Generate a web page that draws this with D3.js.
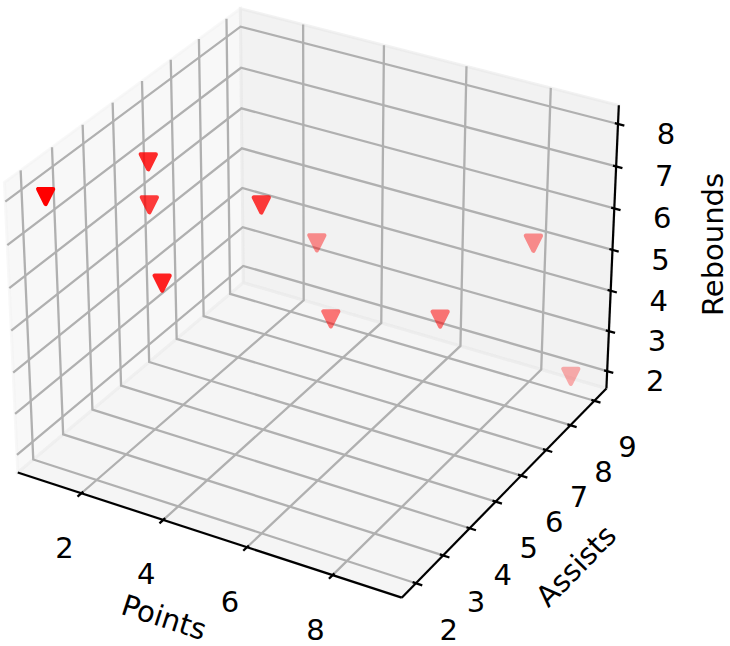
<!DOCTYPE html>
<html><head><meta charset="utf-8">
<script src="https://cdn.jsdelivr.net/npm/d3@7"></script>
<style>body{margin:0;background:#fff} svg{display:block} text{font-family:"DejaVu Sans",sans-serif;fill:#000}</style>
</head><body><svg id="c" width="730" height="646"></svg>
<script>
// ---------- data ----------
const points   = [1, 2, 2, 3, 4, 4, 5, 7, 8, 9];
const assists  = [2, 4, 4, 3, 5, 7, 6, 7, 9, 9];
const rebounds = [8, 8, 7, 6, 7, 5, 4, 4, 5, 2];
const pointsTicks   = [2, 4, 6, 8];
const assistsTicks  = [2, 3, 4, 5, 6, 7, 8, 9];
const reboundsTicks = [2, 3, 4, 5, 6, 7, 8];
const axisTitles = ["Points", "Assists", "Rebounds"];

// ---------- 3D view (matplotlib defaults) ----------
const elev = 30, azim = -60, dist = 10;
const aspect = [4, 4, 3];
const an = Math.hypot(...aspect);
const box = aspect.map(a => a * 1.8294640721620434 / an);

function limits(vals) {
  const lo = d3.min(vals), hi = d3.max(vals), m = (hi - lo) * 0.05;
  return [lo - m, hi + m];
}
function paneDomain(l) { const d = (l[1] - l[0]) / 48; return [l[0] - d, l[1] + d]; }
const limX = limits(points), limY = limits(assists), limZ = limits(rebounds);
const sx = d3.scaleLinear().domain(paneDomain(limX)).range([-box[0] / 2, box[0] / 2]);
const sy = d3.scaleLinear().domain(paneDomain(limY)).range([-box[1] / 2, box[1] / 2]);
const sz = d3.scaleLinear().domain(paneDomain(limZ)).range([-box[2] / 2, box[2] / 2]);
const deltas = [limX, limY, limZ].map(l => (l[1] - l[0]) / 12);

const er = elev * Math.PI / 180, ar = azim * Math.PI / 180;
const w = [Math.cos(er) * Math.cos(ar), Math.cos(er) * Math.sin(ar), Math.sin(er)];
const cross = (a, b) => [a[1]*b[2]-a[2]*b[1], a[2]*b[0]-a[0]*b[2], a[0]*b[1]-a[1]*b[0]];
const dot = (a, b) => a[0]*b[0] + a[1]*b[1] + a[2]*b[2];
let u = cross([0, 0, 1], w); const un = Math.hypot(...u); u = u.map(c => c / un);
const v = cross(w, u);

// 2D screen scales
const px = d3.scaleLinear().domain([0, 0.1]).range([317.3, 317.3 + 385]);
const py = d3.scaleLinear().domain([0, 0.1]).range([289.5, 289.5 - 386]);

function proj(X, Y, Z) {
  const p = [sx(X), sy(Y), sz(Z)];
  const den = dist - dot(w, p);
  return { x: px(dot(u, p) / den), y: py(dot(v, p) / den), depth: -dist / den };
}

const [x0, x1] = sx.domain(), [y0, y1] = sy.domain(), [z0, z1] = sz.domain();
const svg = d3.select("#c");
const line = d3.line().x(d => d.x).y(d => d.y);
const P = arr => arr.map(a => proj(...a));

// ---------- panes ----------
const panes = [
  { c: [[x0,y0,z0],[x0,y1,z0],[x0,y1,z1],[x0,y0,z1]], col: "rgb(242,242,242)" },
  { c: [[x0,y1,z0],[x1,y1,z0],[x1,y1,z1],[x0,y1,z1]], col: "rgb(230,230,230)" },
  { c: [[x0,y0,z0],[x1,y0,z0],[x1,y1,z0],[x0,y1,z0]], col: "rgb(236,236,236)" }
];
svg.append("g").selectAll("path").data(panes).join("path")
  .attr("d", d => line(P(d.c)) + "Z")
  .attr("fill", d => d.col).attr("fill-opacity", 0.5)
  .attr("stroke", d => d.col).attr("stroke-opacity", 0.5).attr("stroke-width", 2.9);

// ---------- grid ----------
const grid = [];
pointsTicks.forEach(t => grid.push([[t,y0,z0],[t,y1,z0],[t,y1,z1]]));
assistsTicks.forEach(t => grid.push([[x0,t,z1],[x0,t,z0],[x1,t,z0]]));
reboundsTicks.forEach(t => grid.push([[x1,y1,t],[x0,y1,t],[x0,y0,t]]));
svg.append("g").selectAll("path").data(grid).join("path")
  .attr("d", d => line(P(d))).attr("fill", "none")
  .attr("stroke", "#b0b0b0").attr("stroke-width", 2.3);

// ---------- axis lines ----------
const axLines = [
  [[x0,y0,z0],[x1,y0,z0]],
  [[x1,y0,z0],[x1,y1,z0]],
  [[x1,y1,z0],[x1,y1,z1]]
];
svg.append("g").selectAll("path").data(axLines).join("path")
  .attr("d", d => line(P(d))).attr("fill", "none")
  .attr("stroke", "#000").attr("stroke-width", 2.2);

// ---------- ticks ----------
const tickSegs = [];
pointsTicks.forEach(t => tickSegs.push([[t, y0 + 0.1*deltas[1], z0], [t, y0 - 0.2*deltas[1], z0]]));
assistsTicks.forEach(t => tickSegs.push([[x1 - 0.1*deltas[0], t, z0], [x1 + 0.2*deltas[0], t, z0]]));
reboundsTicks.forEach(t => tickSegs.push([[x1 - 0.1*deltas[0], y1, t], [x1 + 0.2*deltas[0], y1, t]]));
svg.append("g").selectAll("path").data(tickSegs).join("path")
  .attr("d", d => line(P(d))).attr("fill", "none")
  .attr("stroke", "#000").attr("stroke-width", 2.3);

// ---------- tick labels ----------
const fs = 29;
const tl = svg.append("g").attr("font-size", fs).attr("text-anchor", "middle");
function tickLabels(ticks, at, off) {
  tl.selectAll(null).data(ticks).join("text")
    .attr("x", t => at(t).x + off[0]).attr("y", t => at(t).y + off[1])
    .attr("dy", "0.36em").text(t => t);
}
tickLabels(pointsTicks, t => proj(t, y0, z0), [-17, 54]);
tickLabels(assistsTicks, t => proj(x1, t, z0), [33, 46]);
tickLabels(reboundsTicks, t => proj(x1, y1, t), [48, 9.5]);

// ---------- axis titles ----------
function angle(a, b) { return Math.atan2(b.y - a.y, b.x - a.x) * 180 / Math.PI; }
const xa = P(axLines[0]), ya = P(axLines[1]);
const mids = [
  { p: proj((x0+x1)/2, y0, z0), off: [-40.8, 83.5], rot: angle(xa[0], xa[1]) },
  { p: proj(x1, (y0+y1)/2, z0), off: [67.3, 76.9], rot: angle(ya[0], ya[1]) },
  { p: proj(x1, y1, (z0+z1)/2), off: [100.5, -5.4], rot: -90 }
];
svg.append("g").attr("font-size", fs).attr("text-anchor", "middle")
  .selectAll("text").data(mids).join("text")
  .attr("transform", d => `translate(${d.p.x + d.off[0]},${d.p.y + d.off[1]}) rotate(${d.rot})`)
  .attr("dy", "0.36em").text((d, i) => axisTitles[i]);

// ---------- scatter (depth shaded) ----------
const pts = points.map((p, i) => proj(p, assists[i], rebounds[i]));
const dExt = d3.extent(pts, d => d.depth);
const dn = d3.scaleLinear().domain(dExt).range([0, 1]);
pts.forEach(d => d.alpha = 1 - dn(d.depth) * 0.7);
const order = d3.range(pts.length).sort((a, b) => pts[b].depth - pts[a].depth);
const h = 7.5;
svg.append("g").selectAll("path").data(order.map(i => pts[i])).join("path")
  .attr("d", d => `M${d.x},${d.y + h}L${d.x - h},${d.y - h}L${d.x + h},${d.y - h}Z`)
  .attr("fill", "red").attr("stroke", "red")
  .attr("opacity", d => d.alpha)
  .attr("stroke-width", 4.2).attr("stroke-linejoin", "round");
</script></body></html>
